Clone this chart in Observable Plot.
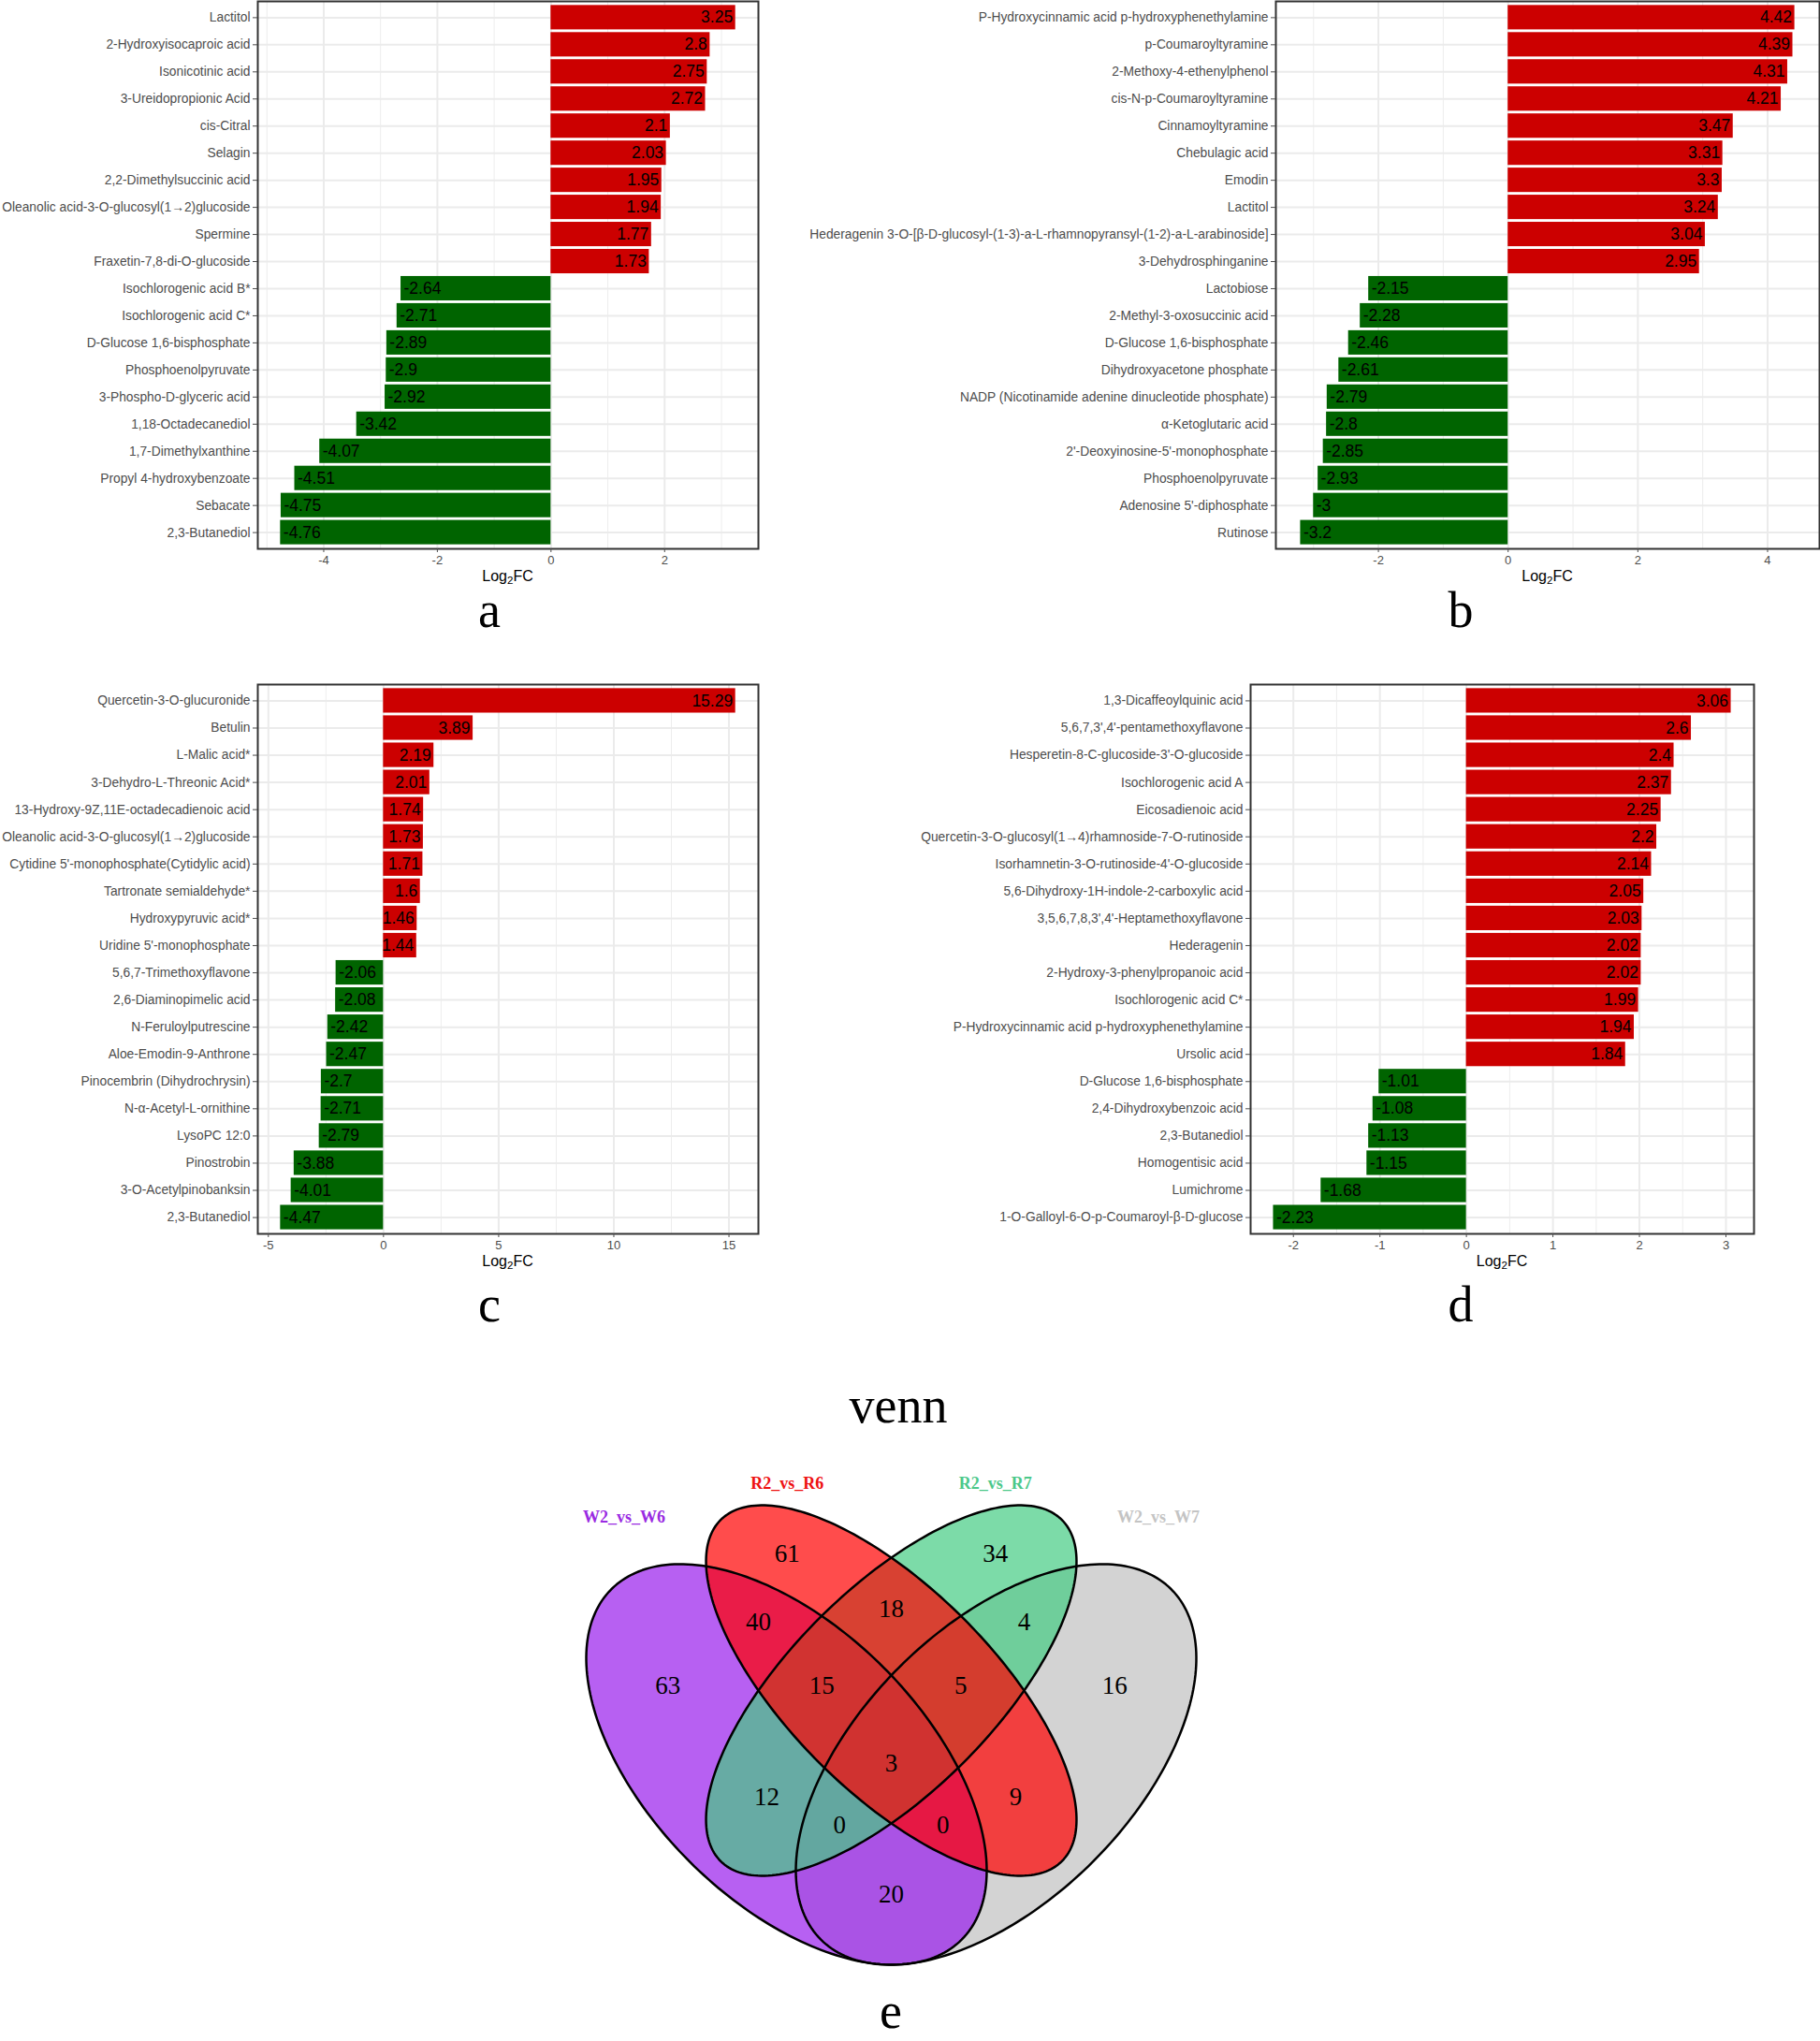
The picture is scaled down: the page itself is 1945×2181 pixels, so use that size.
<!DOCTYPE html>
<html><head><meta charset="utf-8">
<script src="https://cdn.jsdelivr.net/npm/d3@7"></script>
<script src="https://cdn.jsdelivr.net/npm/@observablehq/plot@0.6"></script>
<style>
body{margin:0;background:#fff;}
#page{position:relative;width:1945px;height:2181px;overflow:hidden;background:#fff;}
.wrap{position:absolute;}
.wrap svg{display:block;max-width:none;}
.letter{position:absolute;font-family:"Liberation Serif","Times New Roman",serif;line-height:1;color:#000;width:300px;text-align:center;white-space:nowrap;}
.xt{position:absolute;font-family:"Liberation Sans",Arial,sans-serif;font-size:16px;line-height:1;width:200px;text-align:center;color:#000;white-space:nowrap;}
.xt sub{font-size:0.72em;vertical-align:-0.28em;line-height:0;}
</style></head><body><div id="page"></div>
<script>
// ---------- DATA ----------
const namesA = ["Lactitol","2-Hydroxyisocaproic acid","Isonicotinic acid","3-Ureidopropionic Acid","cis-Citral","Selagin","2,2-Dimethylsuccinic acid","Oleanolic acid-3-O-glucosyl(1\u21922)glucoside","Spermine","Fraxetin-7,8-di-O-glucoside","Isochlorogenic acid B*","Isochlorogenic acid C*","D-Glucose 1,6-bisphosphate","Phosphoenolpyruvate","3-Phospho-D-glyceric acid","1,18-Octadecanediol","1,7-Dimethylxanthine","Propyl 4-hydroxybenzoate","Sebacate","2,3-Butanediol"];
const valuesA = [3.25,2.8,2.75,2.72,2.1,2.03,1.95,1.94,1.77,1.73,-2.64,-2.71,-2.89,-2.9,-2.92,-3.42,-4.07,-4.51,-4.75,-4.76];

const namesB = ["P-Hydroxycinnamic acid p-hydroxyphenethylamine","p-Coumaroyltyramine","2-Methoxy-4-ethenylphenol","cis-N-p-Coumaroyltyramine","Cinnamoyltyramine","Chebulagic acid","Emodin","Lactitol","Hederagenin 3-O-[\u03b2-D-glucosyl-(1-3)-a-L-rhamnopyransyl-(1-2)-a-L-arabinoside]","3-Dehydrosphinganine","Lactobiose","2-Methyl-3-oxosuccinic acid","D-Glucose 1,6-bisphosphate","Dihydroxyacetone phosphate","NADP (Nicotinamide adenine dinucleotide phosphate)","\u03b1-Ketoglutaric acid","2'-Deoxyinosine-5'-monophosphate","Phosphoenolpyruvate","Adenosine 5'-diphosphate","Rutinose"];
const valuesB = [4.42,4.39,4.31,4.21,3.47,3.31,3.3,3.24,3.04,2.95,-2.15,-2.28,-2.46,-2.61,-2.79,-2.8,-2.85,-2.93,-3,-3.2];

const namesC = ["Quercetin-3-O-glucuronide","Betulin","L-Malic acid*","3-Dehydro-L-Threonic Acid*","13-Hydroxy-9Z,11E-octadecadienoic acid","Oleanolic acid-3-O-glucosyl(1\u21922)glucoside","Cytidine 5'-monophosphate(Cytidylic acid)","Tartronate semialdehyde*","Hydroxypyruvic acid*","Uridine 5'-monophosphate","5,6,7-Trimethoxyflavone","2,6-Diaminopimelic acid","N-Feruloylputrescine","Aloe-Emodin-9-Anthrone","Pinocembrin (Dihydrochrysin)","N-\u03b1-Acetyl-L-ornithine","LysoPC 12:0","Pinostrobin","3-O-Acetylpinobanksin","2,3-Butanediol"];
const valuesC = [15.29,3.89,2.19,2.01,1.74,1.73,1.71,1.6,1.46,1.44,-2.06,-2.08,-2.42,-2.47,-2.7,-2.71,-2.79,-3.88,-4.01,-4.47];

const namesD = ["1,3-Dicaffeoylquinic acid","5,6,7,3',4'-pentamethoxyflavone","Hesperetin-8-C-glucoside-3'-O-glucoside","Isochlorogenic acid A","Eicosadienoic acid","Quercetin-3-O-glucosyl(1\u21924)rhamnoside-7-O-rutinoside","Isorhamnetin-3-O-rutinoside-4'-O-glucoside","5,6-Dihydroxy-1H-indole-2-carboxylic acid","3,5,6,7,8,3',4'-Heptamethoxyflavone","Hederagenin","2-Hydroxy-3-phenylpropanoic acid","Isochlorogenic acid C*","P-Hydroxycinnamic acid p-hydroxyphenethylamine","Ursolic acid","D-Glucose 1,6-bisphosphate","2,4-Dihydroxybenzoic acid","2,3-Butanediol","Homogentisic acid","Lumichrome","1-O-Galloyl-6-O-p-Coumaroyl-\u03b2-D-glucose"];
const valuesD = [3.06,2.6,2.4,2.37,2.25,2.2,2.14,2.05,2.03,2.02,2.02,1.99,1.94,1.84,-1.01,-1.08,-1.13,-1.15,-1.68,-2.23];

const ticksA = [-4,-2,0,2],            minorA = [-5,-3,-1,1,3];
const ticksB = [-2,0,2,4],             minorB = [-3,-1,1,3];
const ticksC = [-5,0,5,10,15],         minorC = [-2.5,2.5,7.5,12.5];
const ticksD = [-2,-1,0,1,2,3],        minorD = [-1.5,-0.5,0.5,1.5,2.5];

const vennSets   = ["W2_vs_W6","R2_vs_R6","R2_vs_R7","W2_vs_W7"];
const vennCounts = [61,34,40,18,4,63,15,5,16,3,12,0,0,9,20];

// ---------- LAYOUT / STYLE ----------
const RED = "#CC0000", GREEN = "#006400";
const panelLayout = {
  a: {left:0,   top:0,   width:830,  height:626, ml:275, mr:20, mt:1,  mb:40, letterX:523,  letterB:670,  titleX:542.5, titleB:622},
  b: {left:845, top:0,   width:1100, height:626, ml:518, mr:1,  mt:1,  mb:40, letterX:1561, letterB:670,  titleX:1653.5,titleB:622},
  c: {left:0,   top:700, width:830,  height:658, ml:275, mr:20, mt:31, mb:40, letterX:523,  letterB:1412, titleX:542.5, titleB:1354},
  d: {left:845, top:700, width:1100, height:658, ml:491, mr:71, mt:31, mb:40, letterX:1561, letterB:1412, titleX:1605,  titleB:1354}
};
// venn geometry in unit coordinates (x right, y up)
const vennBox = {left:602, top:1530, size:700, height:640};
const vennColors = {"W2_vs_W6":"#981DEC","R2_vs_R6":"#FF0000","R2_vs_R7":"#45CC83","W2_vs_W7":"#C0C0C0"};
const vennLabelColors = {"W2_vs_W6":"#9A2BE2","R2_vs_R6":"#EE1111","R2_vs_R7":"#4CC88A","W2_vs_W7":"#C4C4C4"};
const vennShapes = {
  "W2_vs_W6": {cx:0.34, cy:0.4929, a:0.3782, b:0.2095, angle:-45},
  "R2_vs_R6": {cx:0.5,  cy:0.6057, a:0.3684, b:0.1557, angle:-45},
  "R2_vs_R7": {cx:0.5,  cy:0.6057, a:0.3684, b:0.1557, angle:45},
  "W2_vs_W7": {cx:0.66, cy:0.4929, a:0.3782, b:0.2095, angle:45}
};
const vennDrawOrder = ["W2_vs_W7","W2_vs_W6","R2_vs_R7","R2_vs_R6"];
const vennSetLabelPos = [[0.092,0.87],[0.341,0.9214],[0.659,0.9214],[0.908,0.87]];
const vennCountPos = [[0.341,0.8147],[0.659,0.8147],[0.297,0.71],[0.5,0.73],[0.703,0.71],
  [0.159,0.6136],[0.394,0.6136],[0.606,0.6136],[0.841,0.6136],[0.5,0.4946],
  [0.31,0.4429],[0.421,0.4],[0.579,0.4],[0.69,0.4429],[0.5,0.2939]];

const page = document.getElementById("page");

function addWrap(node, left, top, width) {
  const w = document.createElement("div");
  w.className = "wrap";
  w.style.left = left + "px"; w.style.top = top + "px"; w.style.width = width + "px";
  w.appendChild(node);
  page.appendChild(w);
}
function addLetter(txt, cx, baseline, fs) {
  const d = document.createElement("div");
  d.className = "letter";
  d.style.fontSize = fs + "px";
  d.textContent = txt;
  d.style.left = (cx - 150) + "px";
  d.style.top = (baseline - 0.8375 * fs) + "px";
  page.appendChild(d);
}
function addXTitle(cx, baseline) {
  const d = document.createElement("div");
  d.className = "xt";
  d.innerHTML = "Log<sub>2</sub>FC";
  d.style.left = (cx - 100) + "px";
  d.style.top = (baseline - 0.8465 * 16) + "px";
  page.appendChild(d);
}

function barPanel(names, values, ticks, minor, L) {
  const data = names.map((n, i) => ({name: n, value: values[i]}));
  const lo = Math.min(0, d3.min(values)), hi = Math.max(0, d3.max(values));
  const pad = (hi - lo) * 0.05;
  const pos = data.filter(d => d.value > 0), neg = data.filter(d => d.value < 0);
  const plot = Plot.plot({
    width: L.width, height: L.height,
    marginLeft: L.ml, marginRight: L.mr, marginTop: L.mt, marginBottom: L.mb,
    style: {fontFamily: "'Liberation Sans', Arial, sans-serif", color: "#4D4D4D", background: "transparent", overflow: "visible"},
    x: {domain: [lo - pad, hi + pad]},
    y: {domain: names, paddingInner: 0.1, paddingOuter: 0.15, round: false},
    marks: [
      Plot.ruleX(minor, {stroke: "#EDEDED", strokeWidth: 1}),
      Plot.ruleX(ticks, {stroke: "#EBEBEB", strokeWidth: 2}),
      Plot.ruleY(names, {y: d => d, stroke: "#EBEBEB", strokeWidth: 2}),
      Plot.barX(pos, {x: "value", y: "name", fill: RED}),
      Plot.barX(neg, {x: "value", y: "name", fill: GREEN}),
      Plot.text(pos, {x: "value", y: "name", text: d => String(d.value), textAnchor: "end", dx: -3, fontSize: 17.5, fill: "black"}),
      Plot.text(neg, {x: "value", y: "name", text: d => String(d.value), textAnchor: "start", dx: 3, fontSize: 17.5, fill: "black"}),
      Plot.frame({stroke: "#333333", strokeWidth: 2}),
      Plot.axisY({tickSize: 5, tickPadding: 3, fontSize: 13.8, label: null}),
      Plot.axisX({ticks: ticks, tickSize: 4, tickPadding: 3, fontSize: 13, label: null, tickFormat: d => String(d)})
    ]
  });
  addWrap(plot, L.left, L.top, L.width);
}

barPanel(namesA, valuesA, ticksA, minorA, panelLayout.a);
barPanel(namesB, valuesB, ticksB, minorB, panelLayout.b);
barPanel(namesC, valuesC, ticksC, minorC, panelLayout.c);
barPanel(namesD, valuesD, ticksD, minorD, panelLayout.d);

for (const k of ["a","b","c","d"]) {
  const L = panelLayout[k];
  addLetter(k, L.letterX, L.letterB, 54);
  addXTitle(L.titleX, L.titleB);
}

// ---------- VENN ----------
function ellipsePts(e) {
  const pts = [], n = 240, r = e.angle * Math.PI / 180, ca = Math.cos(r), sa = Math.sin(r);
  for (let k = 0; k < n; k++) {
    const t = 2 * Math.PI * k / n, u = e.a * Math.cos(t), v = e.b * Math.sin(t);
    pts.push({x: e.cx + u * ca - v * sa, y: e.cy + u * sa + v * ca});
  }
  return pts;
}
const fills = vennDrawOrder.map(s => Plot.line(ellipsePts(vennShapes[s]), {x: "x", y: "y", curve: "linear-closed", fill: vennColors[s], fillOpacity: 0.7, stroke: "none"}));
const outlines = vennDrawOrder.map(s => Plot.line(ellipsePts(vennShapes[s]), {x: "x", y: "y", curve: "linear-closed", fill: "none", stroke: "black", strokeWidth: 2.5}));
const countData = vennCounts.map((c, i) => ({x: vennCountPos[i][0], y: vennCountPos[i][1], t: String(c)}));
const setData = vennSets.map((s, i) => ({x: vennSetLabelPos[i][0], y: vennSetLabelPos[i][1], t: s, c: vennLabelColors[s]}));
const venn = Plot.plot({
  width: vennBox.size, height: vennBox.height,
  marginLeft: 0, marginRight: 0, marginTop: 0, marginBottom: 0,
  style: {background: "transparent", overflow: "visible"},
  x: {domain: [0, 1], range: [0, vennBox.size], axis: null},
  y: {domain: [0, 1], range: [vennBox.size, 0], axis: null},
  color: {type: "identity"},
  marks: [
    ...fills, ...outlines,
    Plot.text(countData, {x: "x", y: "y", text: "t", fontFamily: "'Liberation Serif', 'Times New Roman', serif", fontSize: 27, fill: "black"}),
    Plot.text(setData, {x: "x", y: "y", text: "t", fontFamily: "'Liberation Serif', 'Times New Roman', serif", fontSize: 18, fontWeight: "bold", fill: "c"})
  ]
});
addWrap(venn, vennBox.left, vennBox.top, vennBox.size);
addLetter("venn", 960, 1520, 54);
addLetter("e", 952, 2167, 54);
</script></body></html>
